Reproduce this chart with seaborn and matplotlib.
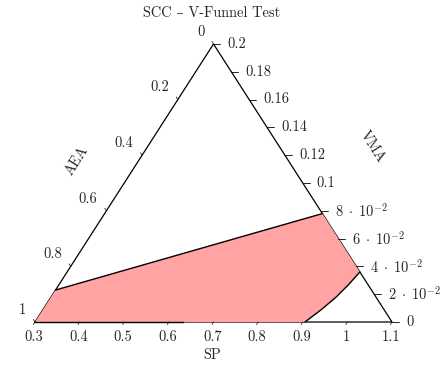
import numpy as np
import pandas as pd
import seaborn as sns
import matplotlib
matplotlib.use('Agg')
import matplotlib.pyplot as plt

sns.set_style('white')
plt.rcParams['font.family'] = ['cmr10', 'DejaVu Serif']
plt.rcParams['mathtext.fontset'] = 'cm'
plt.rcParams['axes.unicode_minus'] = False

# axis ranges (ternary)
sp_min, sp_max = 0.3, 1.1
vma_max = 0.2

sp_ticks = [0.3, 0.4, 0.5, 0.6, 0.7, 0.8, 0.9, 1.0, 1.1]
sp_labels = ['0.3', '0.4', '0.5', '0.6', '0.7', '0.8', '0.9', '1', '1.1']
vma_ticks = [0.0, 0.02, 0.04, 0.06, 0.08, 0.1, 0.12, 0.14, 0.16, 0.18, 0.2]
vma_labels = ['0', r'$2\;\cdot\;10^{-2}$', r'$4\;\cdot\;10^{-2}$', r'$6\;\cdot\;10^{-2}$',
              r'$8\;\cdot\;10^{-2}$', '0.1', '0.12', '0.14', '0.16', '0.18', '0.2']
aea_ticks = [0.0, 0.2, 0.4, 0.6, 0.8, 1.0]
aea_labels = ['0', '0.2', '0.4', '0.6', '0.8', '1']

# feasible region boundaries, given as (SP, VMA)
upper_sp = [0.3, 0.788]
upper_vma = [0.023, 0.078]
curve_sp = [0.956, 0.949, 0.939, 0.924, 0.905]
curve_vma = [0.036, 0.027, 0.018, 0.009, 0.0]
base_sp = [0.3, 0.632]
base_vma = [0.0, 0.0]


def to_xy(sp, vma):
    a = (np.asarray(sp) - sp_min) / (sp_max - sp_min)
    b = np.asarray(vma) / vma_max
    return a + 0.5 * b, b


def to_xy_aea(aea):
    # point on the left edge (SP at its minimum)
    c = np.asarray(aea)
    b = 1 - c
    return 0.5 * b, b


W, H = 445, 367
fig = plt.figure(figsize=(W / 100, H / 100), dpi=100)
ax = fig.add_axes([35 / W, 45 / H, 357 / W, 278 / H])
px = 1 / 357
py = 1 / 278

# triangle outline
tri_x, tri_y = to_xy([sp_min, sp_max, sp_min, sp_min], [0, 0, vma_max, 0])
ax.plot(tri_x, tri_y, color='black', lw=0.9, zorder=1, clip_on=False)

# pink region
reg_sp = [sp_min] + upper_sp + curve_sp
reg_vma = [0.0] + upper_vma + curve_vma
rx, ry = to_xy(reg_sp, reg_vma)
ax.fill(rx, ry, color='#ffa3a3', lw=0, zorder=2, clip_on=False)

bounds = []
for name, s, v in [('upper', upper_sp, upper_vma), ('curve', curve_sp, curve_vma),
                   ('base', base_sp, base_vma)]:
    x, y = to_xy(s, v)
    bounds.append(pd.DataFrame({'x': x, 'y': y, 'part': name}))
bounds = pd.concat(bounds, ignore_index=True)
sns.lineplot(data=bounds, x='x', y='y', units='part', estimator=None, sort=False,
             color='black', lw=1.0, ax=ax, zorder=3, clip_on=False)
ax.set_xlim(0, 1)
ax.set_ylim(0, 1)
ax.axis('off')

fs = 10.4
# SP ticks (bottom)
for t, lab in zip(sp_ticks, sp_labels):
    x, y = to_xy(t, 0)
    ax.plot([x, x - 1.6 * px], [y, y - 2.6 * py], color='black', lw=0.5,
            zorder=4, clip_on=False)
    ax.annotate(lab, (x, y), xytext=(-1, -15), textcoords='offset pixels',
                ha='center', va='center', fontsize=fs)

# VMA ticks (right)
for t, lab in zip(vma_ticks, vma_labels):
    x, y = to_xy(sp_max - (sp_max - sp_min) * t / vma_max, t)
    ax.plot([x, x + 7 * px], [y, y], color='black', lw=0.6, zorder=4, clip_on=False)
    ax.annotate(lab, (x, y), xytext=(14, 0), textcoords='offset pixels',
                ha='left', va='center', fontsize=fs)

# AEA ticks (left)
for t, lab in zip(aea_ticks, aea_labels):
    x, y = to_xy_aea(t)
    ax.plot([x, x - 1.6 * px], [y, y + 2.6 * py], color='black', lw=0.5,
            zorder=4, clip_on=False)
    ax.annotate(lab, (x, y), xytext=(-9, 12), textcoords='offset pixels',
                ha='right', va='center', fontsize=fs)

fig.text(212 / W, 1 - 13 / H, 'SCC – V-Funnel Test', ha='center', va='center', fontsize=fs)
fig.text(212 / W, 1 - 355 / H, 'SP', ha='center', va='center', fontsize=fs)
fig.text(77 / W, 1 - 161 / H, 'AEA', ha='center', va='center', fontsize=fs, rotation=57.4)
fig.text(372 / W, 1 - 147 / H, 'VMA', ha='center', va='center', fontsize=fs, rotation=-57.4)

fig.savefig('out.png', dpi=100)
